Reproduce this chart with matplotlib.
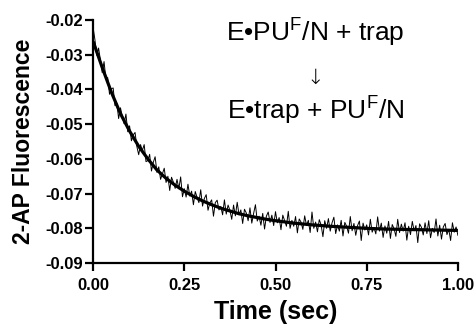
import numpy as np
import matplotlib
matplotlib.use('Agg')
import matplotlib.pyplot as plt

plt.rcParams['font.family'] = ['Liberation Sans', 'DejaVu Sans']
plt.rcParams['mathtext.fontset'] = 'custom'
plt.rcParams['mathtext.rm'] = 'Liberation Sans'
plt.rcParams['axes.unicode_minus'] = False

trace_dt = 0.005
trace = [
    -0.0222, -0.0257, -0.0302, -0.0281, -0.0315, -0.0352, -0.0320, -0.0370, -0.0366, -0.0414,
    -0.0398, -0.0396, -0.0447, -0.0440, -0.0484, -0.0453, -0.0477, -0.0499, -0.0471, -0.0522,
    -0.0505, -0.0548, -0.0531, -0.0524, -0.0565, -0.0588, -0.0559, -0.0576, -0.0559, -0.0608,
    -0.0605, -0.0587, -0.0635, -0.0610, -0.0594, -0.0639, -0.0623, -0.0659, -0.0643, -0.0627,
    -0.0668, -0.0650, -0.0691, -0.0653, -0.0667, -0.0685, -0.0659, -0.0686, -0.0652, -0.0709,
    -0.0686, -0.0710, -0.0673, -0.0707, -0.0693, -0.0732, -0.0694, -0.0711, -0.0726, -0.0689,
    -0.0736, -0.0714, -0.0703, -0.0748, -0.0727, -0.0718, -0.0765, -0.0726, -0.0719, -0.0747,
    -0.0737, -0.0761, -0.0718, -0.0759, -0.0733, -0.0748, -0.0774, -0.0733, -0.0764, -0.0725,
    -0.0761, -0.0747, -0.0786, -0.0745, -0.0756, -0.0778, -0.0741, -0.0785, -0.0757, -0.0732,
    -0.0779, -0.0765, -0.0791, -0.0757, -0.0802, -0.0765, -0.0753, -0.0783, -0.0762, -0.0792,
    -0.0752, -0.0784, -0.0769, -0.0804, -0.0762, -0.0778, -0.0794, -0.0751, -0.0800, -0.0777,
    -0.0794, -0.0766, -0.0813, -0.0773, -0.0782, -0.0803, -0.0764, -0.0792, -0.0777, -0.0812,
    -0.0753, -0.0800, -0.0782, -0.0810, -0.0775, -0.0790, -0.0824, -0.0778, -0.0800, -0.0772,
    -0.0808, -0.0784, -0.0768, -0.0815, -0.0790, -0.0808, -0.0777, -0.0822, -0.0783, -0.0794,
    -0.0814, -0.0766, -0.0807, -0.0786, -0.0820, -0.0792, -0.0779, -0.0835, -0.0785, -0.0805,
    -0.0790, -0.0819, -0.0774, -0.0811, -0.0798, -0.0816, -0.0767, -0.0808, -0.0785, -0.0826,
    -0.0793, -0.0814, -0.0780, -0.0829, -0.0789, -0.0801, -0.0823, -0.0774, -0.0812, -0.0788,
    -0.0808, -0.0784, -0.0834, -0.0794, -0.0818, -0.0780, -0.0807, -0.0792, -0.0841, -0.0787,
    -0.0797, -0.0819, -0.0784, -0.0815, -0.0778, -0.0827, -0.0800, -0.0812, -0.0773, -0.0822,
    -0.0791, -0.0831, -0.0796, -0.0786, -0.0818, -0.0803, -0.0835, -0.0784, -0.0811, -0.0796,
    -0.0820,
]
trace_t = np.arange(len(trace)) * trace_dt

# fitted single-exponential curve
fit_t = [0.000, 0.025, 0.050, 0.075, 0.100, 0.125, 0.150, 0.175, 0.200, 0.225,
         0.250, 0.275, 0.300, 0.325, 0.350, 0.375, 0.400, 0.425, 0.450, 0.475,
         0.500, 0.550, 0.600, 0.650, 0.700, 0.750, 0.800, 0.850, 0.900, 0.950, 1.000]
fit_y = [-0.0262, -0.0337, -0.0408, -0.0470, -0.0520, -0.0564, -0.0600, -0.0632, -0.0656, -0.0676,
         -0.0693, -0.0708, -0.0721, -0.0732, -0.0742, -0.0750, -0.0758, -0.0764, -0.0769, -0.0774,
         -0.0778, -0.0785, -0.0790, -0.0794, -0.0797, -0.0800, -0.0802, -0.0803, -0.0804, -0.0805, -0.0806]

x_ticks = [0.00, 0.25, 0.50, 0.75, 1.00]
y_ticks = [-0.09, -0.08, -0.07, -0.06, -0.05, -0.04, -0.03, -0.02]

fig = plt.figure(figsize=(4.75, 3.26), dpi=100)
ax = fig.add_axes([0.196, 0.193, 0.768, 0.746])

ax.plot(trace_t, trace, color='black', lw=0.7, zorder=2)
ax.plot(fit_t, fit_y, color='black', lw=2.3, solid_capstyle='butt', zorder=3)

ax.set_xlim(0, 1)
ax.set_ylim(-0.09, -0.02)
ax.set_xticks(x_ticks)
ax.set_xticklabels(['%.2f' % v for v in x_ticks])
ax.set_yticks(y_ticks)
ax.set_yticklabels(['%.2f' % v for v in y_ticks])

for s in ['top', 'right']:
    ax.spines[s].set_visible(False)
for s in ['left', 'bottom']:
    ax.spines[s].set_linewidth(1.6)
ax.tick_params(direction='out', length=5.5, width=1.6, labelsize=12)
ax.tick_params(axis='x', pad=5)
ax.tick_params(axis='y', pad=2)
for lab in ax.get_xticklabels() + ax.get_yticklabels():
    lab.set_fontweight('bold')

ax.set_xlabel('Time (sec)', fontsize=18, fontweight='bold', labelpad=5)
ax.set_ylabel('2-AP Fluorescence', fontsize=16.5, fontweight='bold', labelpad=7)

# reaction scheme
ax.text(0.61, -0.0235, r'E•PU$^{\rm F}$/N + trap', fontsize=19, ha='center', va='center')
ax.text(0.61, -0.0367, '↓', fontsize=15, ha='center', va='center',
        family=['DejaVu Sans'], fontweight='light')
ax.text(0.61, -0.0459, r'E•trap + PU$^{\rm F}$/N', fontsize=19, ha='center', va='center')

fig.savefig('out.png', dpi=100)
